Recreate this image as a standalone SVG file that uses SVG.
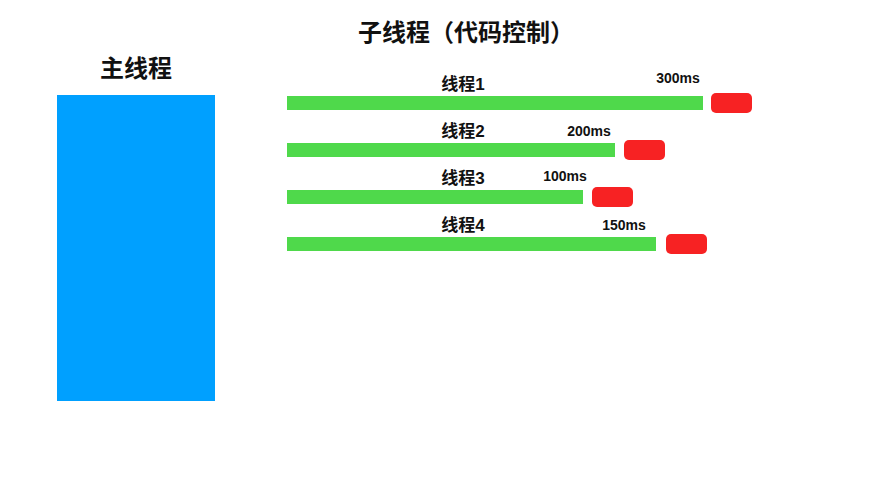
<svg xmlns="http://www.w3.org/2000/svg" width="882" height="486" viewBox="0 0 882 486">
<style>
text{font-family:"Liberation Sans","Noto Sans CJK SC",sans-serif;font-weight:bold;fill:#111}
.t{font-size:24px}
.l{font-size:17px}
.ms{font-size:14px}
.bar{fill:#4fd94b}
.end{fill:#f72223}
</style>
<rect width="882" height="486" fill="#fff"/>
<g id="title"><text class="t" x="466" y="41" text-anchor="middle">子线程（代码控制）</text></g>
<g id="main">
<text class="t" x="136" y="77" text-anchor="middle">主线程</text>
<rect x="57" y="95" width="158" height="306" fill="#00a0ff"/>
</g>
<g id="thread1">
<text class="l" x="463" y="90" text-anchor="middle">线程1</text>
<rect class="bar" x="287" y="96" width="416" height="14"/>
<text class="ms" x="678" y="83" text-anchor="middle">300ms</text>
<rect class="end" x="711" y="93" width="41" height="20" rx="5"/>
</g>
<g id="thread2">
<text class="l" x="463" y="137" text-anchor="middle">线程2</text>
<rect class="bar" x="287" y="143" width="328" height="14"/>
<text class="ms" x="589" y="136" text-anchor="middle">200ms</text>
<rect class="end" x="624" y="140" width="41" height="20" rx="5"/>
</g>
<g id="thread3">
<text class="l" x="463" y="184" text-anchor="middle">线程3</text>
<rect class="bar" x="287" y="190" width="296" height="14"/>
<text class="ms" x="565" y="181" text-anchor="middle">100ms</text>
<rect class="end" x="592" y="187" width="41" height="20" rx="5"/>
</g>
<g id="thread4">
<text class="l" x="463" y="231" text-anchor="middle">线程4</text>
<rect class="bar" x="287" y="237" width="369" height="14"/>
<text class="ms" x="624" y="230" text-anchor="middle">150ms</text>
<rect class="end" x="666" y="234" width="41" height="20" rx="5"/>
</g>
<g id="connectors"></g>
</svg>
